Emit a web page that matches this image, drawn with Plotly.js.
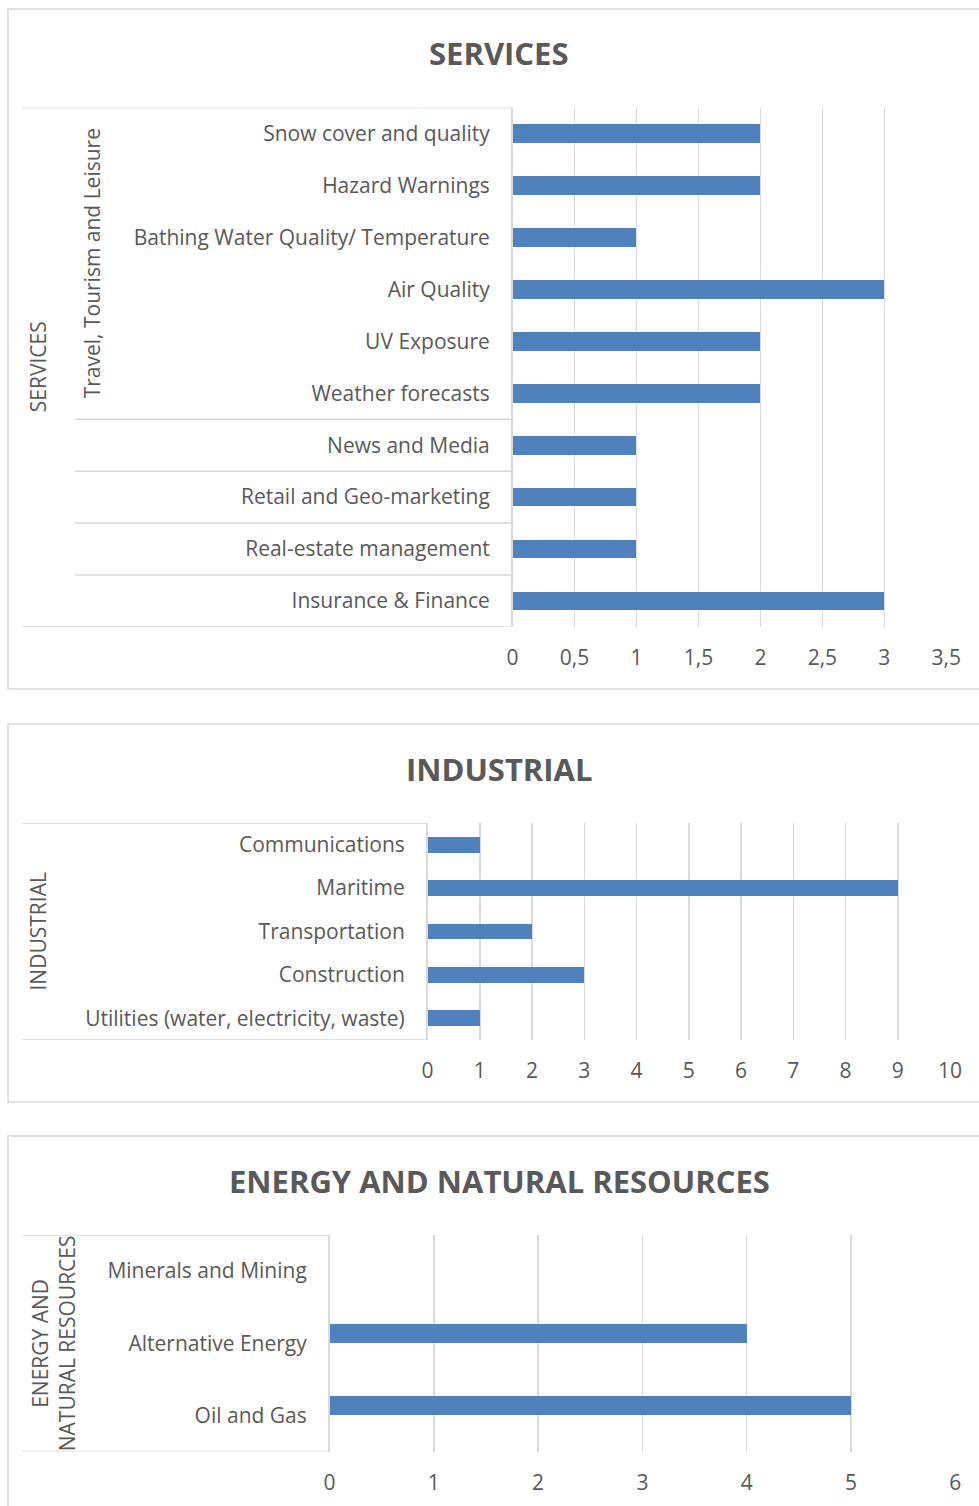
<!DOCTYPE html>
<html>
<head>
<meta charset="utf-8">
<script src="https://cdn.plot.ly/plotly-3.0.1.min.js"></script>
<style>html,body{margin:0;padding:0;background:#fff;}#chart{width:979px;height:1506px;}</style>
</head>
<body>
<div id="chart"></div>
<script>
// ---- DATA ----
var servicesCategories = ["Snow cover and quality","Hazard Warnings","Bathing Water Quality/ Temperature","Air Quality","UV Exposure","Weather forecasts","News and Media","Retail and Geo-marketing","Real-estate management","Insurance & Finance"];
var servicesValues = [2,2,1,3,2,2,1,1,1,3];
var servicesGroup = "SERVICES";
var servicesSubgroup = "Travel, Tourism and Leisure";
var servicesSubgroupRows = 6; // first six categories belong to the subgroup
var servicesTickVals = [0,0.5,1,1.5,2,2.5,3,3.5];
var servicesTickText = ["0","0,5","1","1,5","2","2,5","3","3,5"];

var industrialCategories = ["Communications","Maritime","Transportation","Construction","Utilities (water, electricity, waste)"];
var industrialValues = [1,9,2,3,1];
var industrialGroup = "INDUSTRIAL";
var industrialTickVals = [0,1,2,3,4,5,6,7,8,9,10];
var industrialTickText = ["0","1","2","3","4","5","6","7","8","9","10"];

var energyCategories = ["Minerals and Mining","Alternative Energy","Oil and Gas"];
var energyValues = [0,4,5];
var energyGroup = "ENERGY AND<br>NATURAL RESOURCES";
var energyTickVals = [0,1,2,3,4,5,6];
var energyTickText = ["0","1","2","3","4","5","6"];

var chartTitles = ["SERVICES","INDUSTRIAL","ENERGY AND NATURAL RESOURCES"];

// ---- STYLE / LAYOUT ----
var W = 979, H = 1506;
function px(x){ return x / W; }
function py(y){ return 1 - y / H; }
var TXT = "#595959", GRID = "#d9d9d9", BAR = "#4f81bd", FONT = "Open Sans, sans-serif";
var FS = 21;

function barTrace(cats, vals, xa, ya, width, offset){
  var t = {type:"bar", orientation:"h", x: vals, y: cats, xaxis: xa, yaxis: ya,
    marker:{color:BAR, line:{width:0}}, width: width, hoverinfo:"none", showlegend:false};
  if (offset !== undefined) t.offset = offset;
  return t;
}

var data = [
  barTrace(servicesCategories, servicesValues, "x", "y", 0.36),
  barTrace(industrialCategories, industrialValues, "x2", "y2", 0.36),
  barTrace(energyCategories, energyValues, "x3", "y3", 0.264, -0.264)
];

function xAxis(domain, anchor, range, tv, tt){
  return {domain: domain, anchor: anchor, range: range, tickmode:"array", tickvals: tv, ticktext: tt,
    showgrid:true, gridcolor:GRID, gridwidth:1.5, zeroline:false, showline:false, ticks:"",
    ticklabelstandoff: 16, tickfont:{family:FONT, size:FS, color:TXT}, fixedrange:true};
}
function yAxis(domain, anchor, cats){
  return {domain: domain, anchor: anchor, type:"category", categoryorder:"array", categoryarray: cats,
    range:[cats.length - 0.5, -0.5], showgrid:false, zeroline:false, showline:true, linecolor:GRID, linewidth:1.5,
    ticks:"", ticklabelstandoff: 17, tickfont:{family:FONT, size:FS, color:TXT}, fixedrange:true};
}

var shapes = [];
function hline(x0, x1, yref, y){
  shapes.push({type:"line", xref:"paper", yref:yref, x0:px(x0), x1:px(x1), y0:y, y1:y, line:{color:GRID, width:1.5}});
}
function box(x0, y0, x1, y1){
  shapes.push({type:"rect", xref:"paper", yref:"paper", x0:px(x0), x1:px(x1), y0:py(y0), y1:py(y1), line:{color:GRID, width:1.5}, fillcolor:"rgba(0,0,0,0)", layer:"below"});
}
box(8, 9, 1010, 689);
box(8, 724, 1010, 1102);
box(8, 1136, 1010, 1530);

// services table lines
hline(22, 513, "y", -0.5);
hline(22, 513, "y", servicesCategories.length - 0.5);
for (var i = servicesSubgroupRows; i < servicesCategories.length; i++) hline(75, 513, "y", i - 0.5);
// industrial table lines
hline(22, 428, "y2", -0.5);
hline(22, 428, "y2", industrialCategories.length - 0.5);
// energy table lines
hline(22, 330, "y3", -0.5);
hline(22, 330, "y3", energyCategories.length - 0.5);

var annotations = [];
function title(text, y){
  annotations.push({text:"<b>"+text+"</b>", xref:"paper", yref:"paper", x:px(499), y:py(y), showarrow:false,
    xanchor:"center", yanchor:"middle", font:{family:FONT, size:31, color:TXT}});
}
title(chartTitles[0], 53);
title(chartTitles[1], 769);
title(chartTitles[2], 1181);

function vlabel(text, x, yref, y){
  annotations.push({text:text, xref:"paper", yref:yref, x:px(x), y:y, showarrow:false, textangle:-90,
    xanchor:"center", yanchor:"middle", font:{family:FONT, size:FS, color:TXT}});
}
vlabel(servicesGroup, 38, "y", (servicesCategories.length - 1) / 2);
vlabel(servicesSubgroup, 92, "y", (servicesSubgroupRows - 1) / 2);
vlabel(industrialGroup, 38, "y2", (industrialCategories.length - 1) / 2);
vlabel(energyGroup, 53, "y3", (energyCategories.length - 1) / 2);

var layout = {
  width: W, height: H, margin:{l:0, r:0, t:0, b:0}, paper_bgcolor:"#fff", plot_bgcolor:"rgba(0,0,0,0)",
  showlegend:false, bargap:0,
  xaxis:  xAxis([px(512.5), px(946.3)], "y",  [0, 3.5], servicesTickVals, servicesTickText),
  yaxis:  yAxis([py(627), py(107.5)], "x", servicesCategories),
  xaxis2: xAxis([px(427.5), px(950)], "y2", [0, 10], industrialTickVals, industrialTickText),
  yaxis2: yAxis([py(1040), py(823)], "x2", industrialCategories),
  xaxis3: xAxis([px(329.5), px(955.3)], "y3", [0, 6], energyTickVals, energyTickText),
  yaxis3: yAxis([py(1451.5), py(1235)], "x3", energyCategories),
  shapes: shapes, annotations: annotations
};

Plotly.newPlot("chart", data, layout, {staticPlot:true, displayModeBar:false});
</script>
</body>
</html>
